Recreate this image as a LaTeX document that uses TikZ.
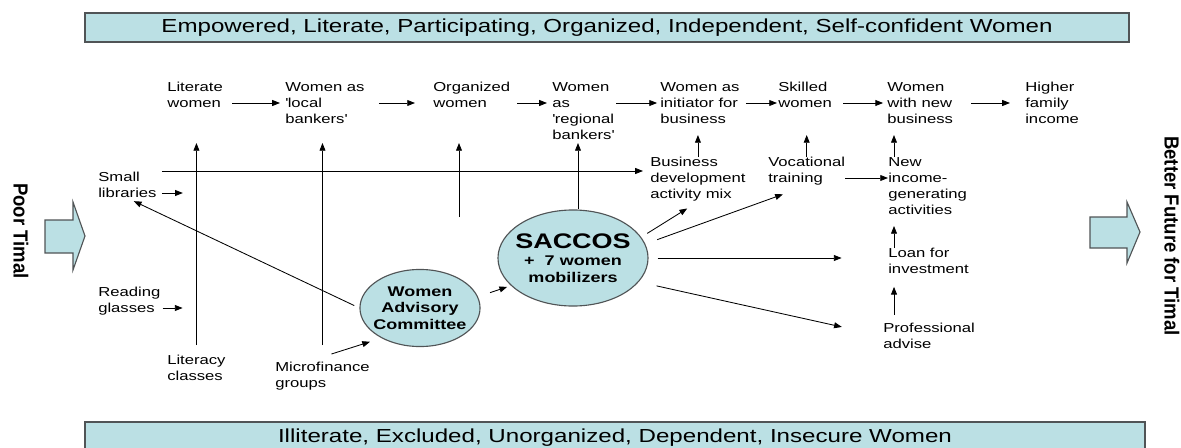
\documentclass[tikz,border=0pt]{standalone}
\usepackage{fontspec}
\usepackage{graphicx}
\setmainfont{Liberation Sans}[FakeStretch=1.28]
\newfontfamily\sidefont{Liberation Sans}
\usetikzlibrary{shapes.geometric, arrows.meta, positioning, calc}
\definecolor{paleteal}{RGB}{187,224,228}
\definecolor{rimgray}{RGB}{80,84,86}

\begin{document}
\begin{tikzpicture}[x=0.025cm, y=-0.025cm, >={Triangle[length=5.5pt, width=4.2pt]}]
  \tikzstyle{txt}=[anchor=north west, inner sep=0pt, align=left, font=\fontsize{9.25}{11.4}\selectfont]
  \tikzstyle{banner}=[draw=rimgray, fill=paleteal, line width=1pt, inner sep=0pt, font=\fontsize{13.4}{14}\selectfont]
  \tikzstyle{bubble}=[ellipse, draw=rimgray, fill=paleteal, line width=0.8pt, inner sep=0pt]
  \tikzstyle{bubbletext}=[inner sep=0pt, align=center, font=\bfseries\fontsize{10}{11.7}\selectfont]
  \tikzstyle{link}=[->, line width=0.6pt]
  \tikzstyle{bigarrow}=[draw=rimgray, fill=paleteal, line width=0.8pt]
  \tikzstyle{side}=[rotate=-90, inner sep=0pt, font=\sidefont\bfseries\fontsize{13.2}{13.2}\selectfont]

  \useasboundingbox (0,0) rectangle (1181,447);

  % Banners
  \node[banner, minimum width=742.6pt, minimum height=20.6pt] (topbar) at (607,27.5)
    {Empowered, Literate, Participating, Organized, Independent, Self-confident Women};
  \node[banner, minimum width=754pt, minimum height=22pt] (botbar) at (615,437.5)
    {Illiterate, Excluded, Unorganized, Dependent, Insecure Women};

  % Side arrows
  \draw[bigarrow] (45,220) -- (73,220) -- (73,202) -- (85,236) -- (73,270) -- (73,253) -- (45,253) -- cycle;
  \draw[bigarrow] (1090,217) -- (1127,217) -- (1127,202) -- (1140,232) -- (1127,263) -- (1127,248) -- (1090,248) -- cycle;
  \node[side] (poor) at (21,231) {\scalebox{1}[1.1]{Poor Timal}};
  \node[side] (better) at (1172,236) {\scalebox{1}[1.1]{Better Future for Timal}};

  % Helper rows
  \coordinate (rowA) at (0,103);
  \coordinate (rowB) at (0,171);
  \coordinate (tipA) at (0,135);
  \coordinate (tipB) at (0,143);
  \coordinate (colR) at (894,0);
  \coordinate (orgin) at (459,217);

  % Outcome row
  \foreach \name/\x/\txt in {litw/167/{Literate\\women},
                             lbk/285/{Women as\\\textquotesingle local\\bankers\textquotesingle},
                             orgw/433/{Organized\\women},
                             rbk/552/{Women\\as\\\textquotesingle regional\\bankers\textquotesingle},
                             init/660/{Women as\\initiator for\\business},
                             skw/778/{Skilled\\women},
                             nbw/887/{Women\\with new\\business},
                             hfi/1025/{Higher\\family\\income}} {
    \node[txt] (\name) at (\x,82) {\txt};
  }
  \foreach \a/\b/\s/\t in {litw/lbk/6.4/3.6, lbk/orgw/10/12.8, orgw/rbk/5/3.6, rbk/init/1.4/2.1,
                           init/skw/4.3/0.7, skw/nbw/7.8/2.8, nbw/hfi/12.8/10.7} {
    \draw[link, shorten <=\s pt, shorten >=\t pt] (\a.east |- rowA) -- (\b.west |- rowA);
  }

  % Activities
  \node[txt] (lib)  at (98,172)  {Small\\libraries};
  \node[txt] (rg)   at (98,287)  {Reading\\glasses};
  \node[txt] (litc) at (167,355) {Literacy\\classes};
  \node[txt] (mfg)  at (275,362) {Microfinance\\groups};
  \node[txt] (bdm)  at (650,157) {Business\\development\\activity mix};
  \node[txt] (voc)  at (768,157) {Vocational\\training};
  \node[txt] (nig)  at (888,157) {New\\income-\\generating\\activities};
  \node[txt] (loan) at (888,248) {Loan for\\investment};
  \node[txt] (pro)  at (883,323) {Professional\\advise};

  % Committees
  \node[bubble, minimum width=106.7pt, minimum height=68.3pt] (sac) at (573,258) {};
  \node[bubbletext] (sactext) at (sac) {{\fontsize{15}{15}\selectfont SACCOS}\\[0.7pt]+\ \ 7 women\\mobilizers};
  \node[bubble, minimum width=85.4pt, minimum height=54.8pt] (wac) at (420,308) {};
  \node[bubbletext] (wactext) at (wac) {Women\\Advisory\\Committee};
  \coordinate (sactop) at ($(sac.north)+(5,0)$);

  % Long connections
  \draw[link, shorten <=7pt] (litc.north) -- (litc.north |- tipB);
  \draw[link, shorten <=12pt] (mfg.north) -- (mfg.north |- tipB);
  \draw[link] (orgin) -- (orgin |- tipB);
  \draw[link] (sactop) -- (sactop |- tipB);
  \draw[link, shorten <=3.5pt, shorten >=5pt] (lib.east |- rowB) -- (bdm.west |- rowB);
  \draw[link, shorten <=3.5pt] (lib.east |- 0,193) -- ++(26,0);
  \draw[link, shorten <=1.4pt] (rg.east |- 0,308) -- ++(22,0);

  % Short connections
  \draw[link] (bdm.north) -- (bdm.north |- tipA);
  \draw[link] (voc.north) -- (voc.north |- tipA);
  \draw[link] (nig.north -| colR) -- (colR |- tipA);
  \draw[link, shorten >=8pt] (loan.north -| colR) -- (nig.south -| colR);
  \draw[link, shorten <=5.7pt, shorten >=9pt] (pro.north -| colR) -- (loan.south -| colR);
  \draw[link] (voc.east |- 0,178) -- (nig.west |- 0,178);

  % From the committees
  \draw[link, shorten <=4pt, shorten >=5pt] (wac.west) -- (lib.south);
  \draw[link, shorten >=8.5pt] ($(mfg.north)+(9,-8)$) -- (wac.218);
  \draw[link, shorten <=9pt, shorten >=2.8pt] (wac.11) -- (sac.204);
  \draw[link, shorten <=5pt, shorten >=9pt] (sac.17) -- (bdm.south);
  \draw[link, shorten <=9pt, shorten >=18pt] (sac.11) -- (voc.south);
  \draw[link, shorten <=6.4pt, shorten >=33pt] (sac.east) -- (sac.east -| loan.west);
  \draw[link, shorten <=13pt, shorten >=30pt] (sac.340) -- (pro.west);
\end{tikzpicture}
\end{document}
